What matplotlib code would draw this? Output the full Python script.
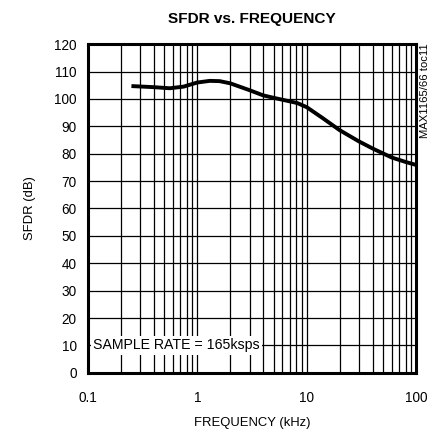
import matplotlib
matplotlib.use("Agg")
import matplotlib.pyplot as plt
from matplotlib import font_manager

# narrow face if it is there, else plain face a bit smaller
try:
    font_manager.findfont('Liberation Sans Narrow', fallback_to_default=False)
    plt.rcParams['font.family'] = ['Liberation Sans Narrow', 'DejaVu Sans']
    k = 1.0
except Exception:
    plt.rcParams['font.family'] = ['Liberation Sans', 'DejaVu Sans']
    k = 0.85

# curve
freq_khz = [0.25, 0.4, 0.56, 0.75, 1.0, 1.3, 1.6, 2.0, 3.0, 4.0, 5.0, 6.5, 8.2, 10, 14, 20, 30, 41, 60, 80, 100]
sfdr_db = [104.7, 104.3, 103.9, 104.5, 106.0, 106.6, 106.5, 105.7, 103.2, 101.3, 100.4, 99.4, 98.5, 97.0, 93.0, 88.6, 84.5, 81.7, 78.6, 77.0, 75.9]

y_ticks = list(range(0, 121, 10))
x_ticks = [0.1, 1, 10, 100]
x_tick_labels = ['0.1', '1', '10', '100']

fig = plt.figure(figsize=(4.33, 4.33), dpi=100)
ax = fig.add_axes([0.203, 0.139, 0.758, 0.759])

ax.set_xscale('log')
ax.set_xlim(0.1, 100)
ax.set_ylim(0, 120)

# grid lines at every decade subdivision
grid_x = [m * d for d in (0.1, 1, 10) for m in range(2, 10)] + [1, 10]
for gx in grid_x:
    ax.axvline(gx, color='black', lw=0.9, zorder=1)
for gy in y_ticks[1:-1]:
    ax.axhline(gy, color='black', lw=0.9, zorder=1)

ax.plot(freq_khz, sfdr_db, color='black', lw=2.8, zorder=3, solid_capstyle='butt')

ax.set_xticks(x_ticks)
ax.set_xticklabels(x_tick_labels)
ax.set_xticks([], minor=True)
ax.set_yticks(y_ticks)
ax.tick_params(length=0, labelsize=11.5 * k)
ax.tick_params(axis='x', pad=13)
ax.tick_params(axis='y', pad=8)

for side in ax.spines.values():
    side.set_linewidth(2.2)

ax.set_xlabel('FREQUENCY (kHz)', fontsize=11 * k, labelpad=9)
ax.set_ylabel('SFDR (dB)', fontsize=11 * k, labelpad=13)
ax.set_title('SFDR vs. FREQUENCY', fontsize=13 * k, fontweight='bold', pad=15)

ax.text(0.112, 10, 'SAMPLE RATE = 165ksps', fontsize=12 * k, va='center', ha='left', zorder=4,
        bbox=dict(facecolor='white', edgecolor='none', pad=1.5))

fig.text(0.982, 0.900, 'MAX1165/66 toc11', rotation=90, fontsize=9.5 * k, ha='center', va='top')

fig.savefig('out.png', dpi=100)
